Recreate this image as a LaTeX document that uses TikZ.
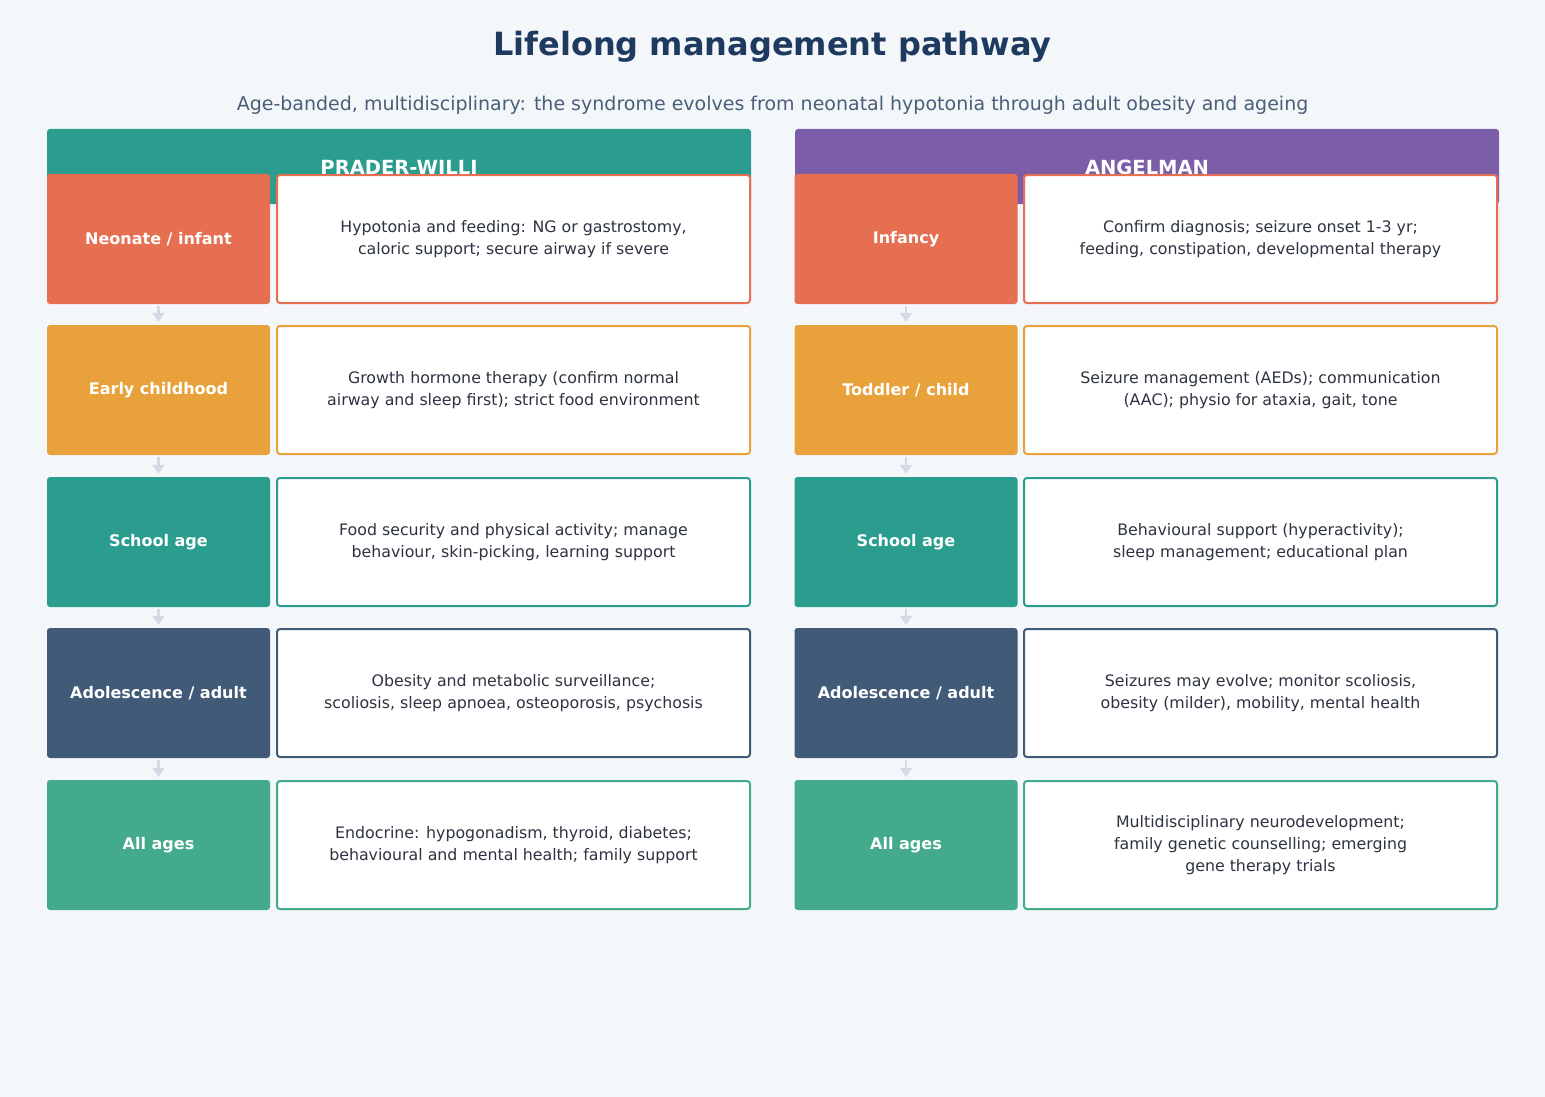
\documentclass[tikz,border=0pt]{standalone}
\usepackage{fontspec}
\setmainfont{DejaVu Sans}
\usetikzlibrary{arrows.meta}
\definecolor{bgc}{HTML}{F4F7FA}
\definecolor{titlec}{HTML}{1F3A5F}
\definecolor{subc}{HTML}{4A5E78}
\definecolor{txtc}{HTML}{2D3340}
\definecolor{pwc}{HTML}{2A9D8F}
\definecolor{asc}{HTML}{7B5EA7}
\definecolor{rowa}{HTML}{E76F51}
\definecolor{rowb}{HTML}{E9A23B}
\definecolor{rowc}{HTML}{2A9D8F}
\definecolor{rowd}{HTML}{415A77}
\definecolor{rowe}{HTML}{43AA8B}
\definecolor{arrc}{HTML}{D3DAE5}
\tikzset{
  band/.style={fill=#1, draw=none, rounded corners=3pt, minimum width=704pt, minimum height=75pt, inner sep=0pt},
  bandtxt/.style={text=white, font=\fontsize{19.5}{22}\selectfont\bfseries},
  stagebox/.style={fill=#1, draw=none, rounded corners=3pt, minimum width=223pt, minimum height=130pt, inner sep=0pt, text=white, font=\fontsize{16}{19}\selectfont\bfseries},
  detailbox/.style={fill=white, draw=#1, line width=2pt, rounded corners=3pt, minimum width=473pt, minimum height=128pt, inner sep=0pt, text=txtc, align=center, font=\fontsize{15.8}{22}\selectfont},
  flow/.style={draw=arrc, line width=2.2pt, -{Triangle[length=9pt,width=12pt]}, shorten <=2pt, shorten >=3pt}
}
\begin{document}
\begin{tikzpicture}[x=1pt,y=-1pt]
\fill[bgc] (0,0) rectangle (1545,1097);
\useasboundingbox (0,0) rectangle (1545,1097);
\node[text=titlec, font=\fontsize{32}{38}\selectfont\bfseries] (title) at (772.5,46.5) {Lifelong management pathway};
\node[text=subc, font=\fontsize{19}{23}\selectfont] (sub) at (772.5,105) {Age-banded, multidisciplinary: the syndrome evolves from neonatal hypotonia through adult obesity and ageing};
% bands
\node[band=pwc] (pwband) at (399,166.5) {};
\node[bandtxt, anchor=base] (pwtxt) at (399,174.5) {PRADER-WILLI};
\node[band=asc] (asband) at (1147,166.5) {};
\node[bandtxt, anchor=base] (astxt) at (1147,174.5) {ANGELMAN};
% Prader-Willi column
\node[stagebox=rowa] (p1) at (158.5,239) {Neonate / infant};
\node[detailbox=rowa] (pd1) at (513.5,239) {Hypotonia and feeding: NG or gastrostomy,\\caloric support; secure airway if severe};
\node[stagebox=rowb] (p2) at (158.5,390) {Early childhood};
\node[detailbox=rowb] (pd2) at (513.5,390) {Growth hormone therapy (confirm normal\\airway and sleep first); strict food environment};
\node[stagebox=rowc] (p3) at (158.5,542) {School age};
\node[detailbox=rowc] (pd3) at (513.5,542) {Food security and physical activity; manage\\behaviour, skin-picking, learning support};
\node[stagebox=rowd] (p4) at (158.5,693) {Adolescence / adult};
\node[detailbox=rowd] (pd4) at (513.5,693) {Obesity and metabolic surveillance;\\scoliosis, sleep apnoea, osteoporosis, psychosis};
\node[stagebox=rowe] (p5) at (158.5,845) {All ages};
\node[detailbox=rowe] (pd5) at (513.5,845) {Endocrine: hypogonadism, thyroid, diabetes;\\behavioural and mental health; family support};
% Angelman column
\node[stagebox=rowa] (a1) at (906,239) {Infancy};
\node[detailbox=rowa] (ad1) at (1260.5,239) {Confirm diagnosis; seizure onset 1-3 yr;\\feeding, constipation, developmental therapy};
\node[stagebox=rowb] (a2) at (906,390) {Toddler / child};
\node[detailbox=rowb] (ad2) at (1260.5,390) {Seizure management (AEDs); communication\\(AAC); physio for ataxia, gait, tone};
\node[stagebox=rowc] (a3) at (906,542) {School age};
\node[detailbox=rowc] (ad3) at (1260.5,542) {Behavioural support (hyperactivity);\\sleep management; educational plan};
\node[stagebox=rowd] (a4) at (906,693) {Adolescence / adult};
\node[detailbox=rowd] (ad4) at (1260.5,693) {Seizures may evolve; monitor scoliosis,\\obesity (milder), mobility, mental health};
\node[stagebox=rowe] (a5) at (906,845) {All ages};
\node[detailbox=rowe] (ad5) at (1260.5,845) {Multidisciplinary neurodevelopment;\\family genetic counselling; emerging\\gene therapy trials};
% arrows
\foreach \i/\j in {1/2,2/3,3/4,4/5}{
  \draw[flow] (p\i.south) -- (p\j.north);
  \draw[flow] (a\i.south) -- (a\j.north);
}
\end{tikzpicture}
\end{document}
